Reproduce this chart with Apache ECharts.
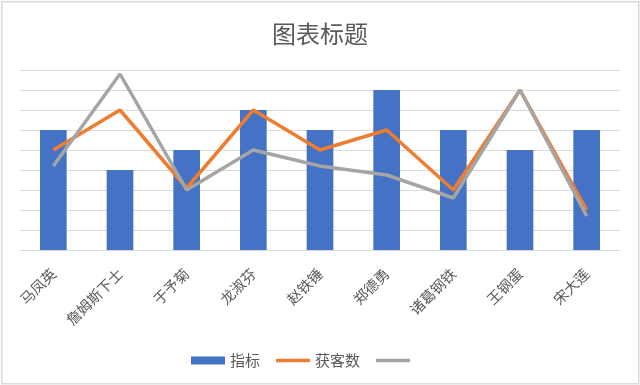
<!DOCTYPE html>
<html>
<head>
<meta charset="utf-8">
<script src="https://cdn.jsdelivr.net/npm/echarts@6/dist/echarts.min.js"></script>
<style>html,body{margin:0;padding:0;background:#fff}#c{width:640px;height:385px}</style>
</head>
<body>
<div id="c"></div>
<script>
var categories = ['马凤英','詹姆斯下士','于予菊','龙淑芬','赵铁锤','郑德勇','诸葛钢铁','王钢蛋','宋大莲'];
var indicator = [6,4,5,7,6,8,6,5,6];
var customers = [5,7,3.1,7,5,6,3,8,2];
var thirdSeries = [4.2,8.8,3,5,4.2,3.75,2.6,8,1.7];

var chart = echarts.init(document.getElementById('c'));
var font = '"Noto Sans CJK SC", "Noto Sans", sans-serif';
var lineIcon = 'path://M0,0L34,0L34,3.5L0,3.5Z';
chart.setOption({
  animation: false,
  textStyle: {fontFamily: font},
  graphic: [{
    type: 'rect', left: 1, top: 1, z: -1,
    shape: {width: 637, height: 382},
    style: {fill: '#fff', stroke: '#d9d9d9', lineWidth: 1.5}
  }],
  title: {
    text: '图表标题', left: 'center', top: 17,
    textStyle: {fontSize: 24, fontWeight: 'normal', color: '#595959', fontFamily: font}
  },
  legend: {
    top: 348, left: 186, itemGap: 16, itemWidth: 34, itemHeight: 8,
    textStyle: {fontSize: 15, color: '#595959', fontFamily: font},
    data: [{name: '指标', icon: 'rect'}, {name: '获客数', icon: lineIcon}, {name: ' ', icon: lineIcon}]
  },
  grid: {left: 20, right: 20, top: 70, bottom: 135},
  xAxis: {
    type: 'category', data: categories,
    axisLine: {lineStyle: {color: '#d9d9d9', width: 1}},
    axisTick: {show: false},
    axisLabel: {rotate: 45, fontSize: 14.5, color: '#595959', margin: 21, fontFamily: font}
  },
  yAxis: {
    type: 'value', min: 0, max: 9, interval: 1,
    axisLabel: {show: false}, axisLine: {show: false}, axisTick: {show: false},
    splitLine: {lineStyle: {color: '#d9d9d9', width: 1}}
  },
  series: [
    {name: '指标', type: 'bar', data: indicator, barWidth: '40%', itemStyle: {color: '#4472C4'}},
    {name: '获客数', type: 'line', data: customers, symbol: 'none', lineStyle: {color: '#ED7D31', width: 3.5}, itemStyle: {color: '#ED7D31'}},
    {name: ' ', type: 'line', data: thirdSeries, symbol: 'none', lineStyle: {color: '#A5A5A5', width: 3.5}, itemStyle: {color: '#A5A5A5'}}
  ]
});
</script>
</body>
</html>
